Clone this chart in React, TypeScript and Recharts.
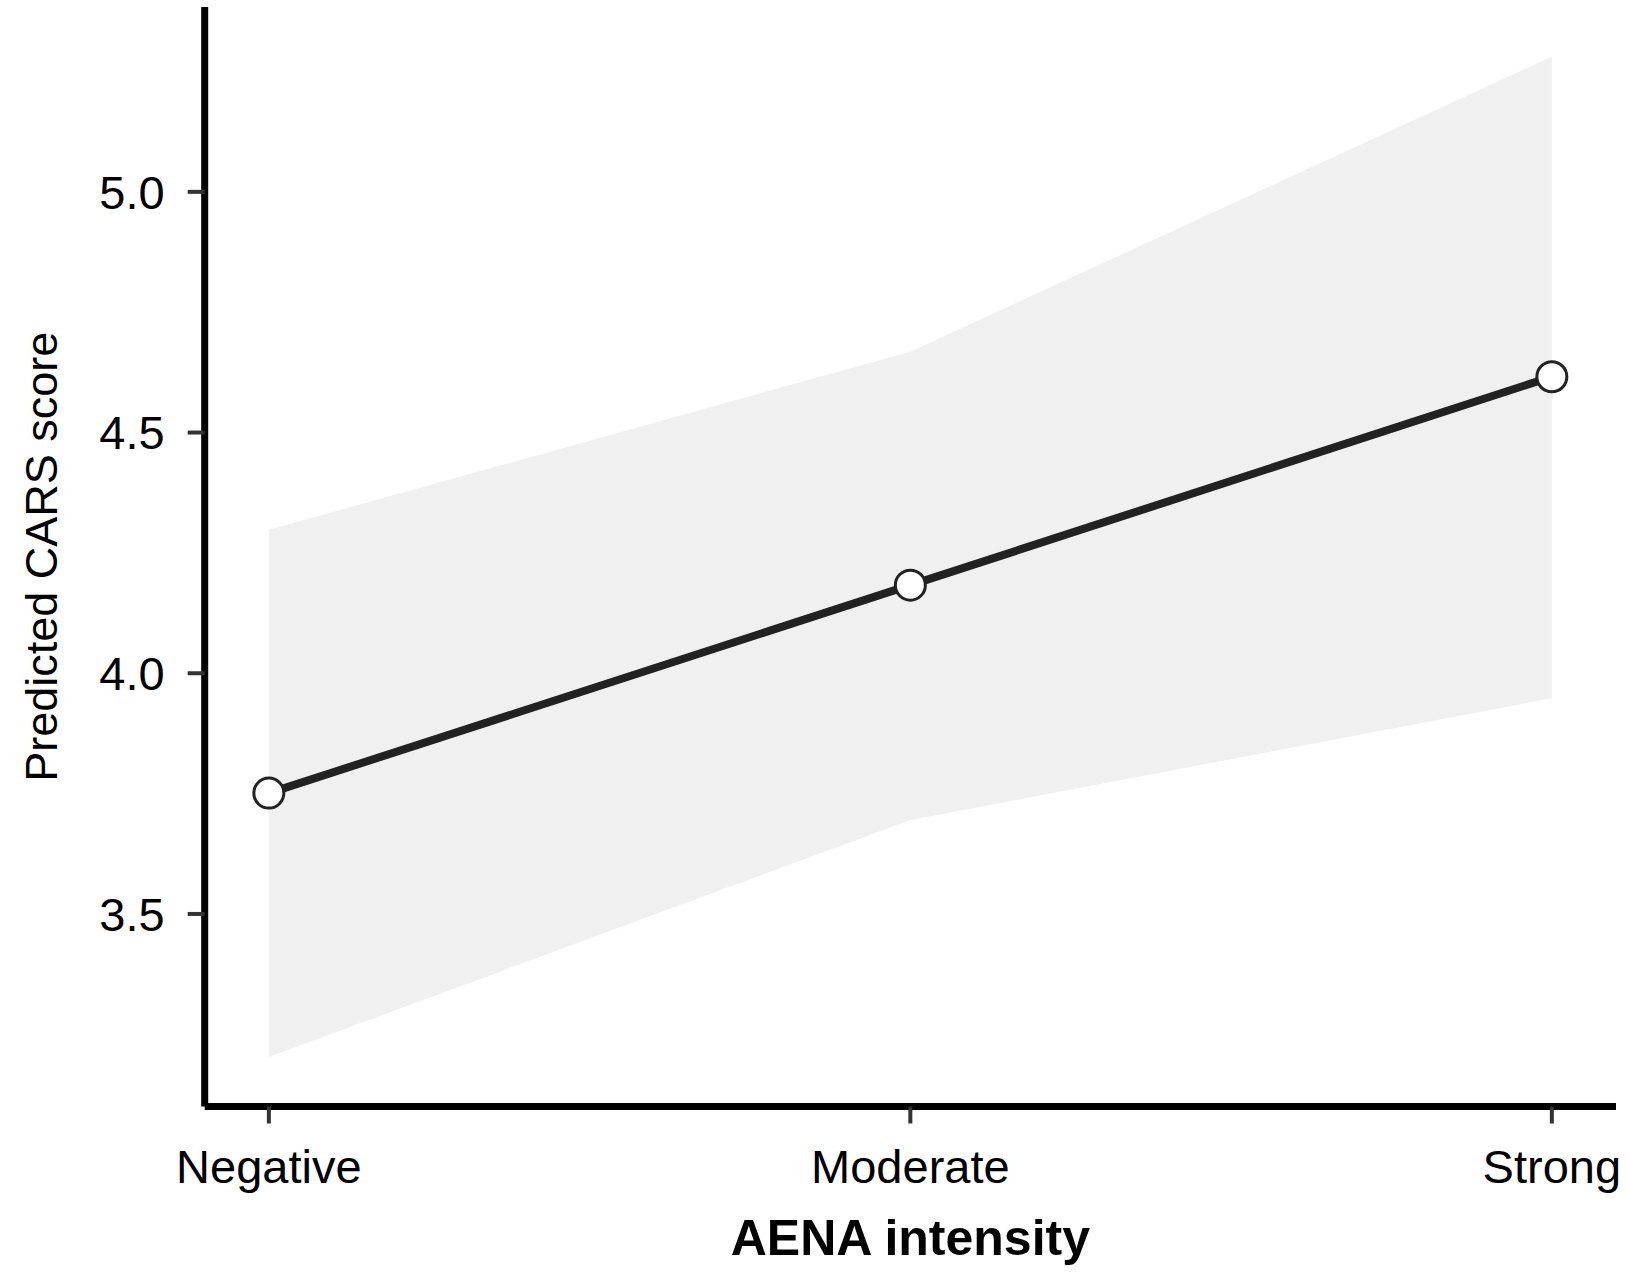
import { ComposedChart, Area, Line, XAxis, YAxis } from 'recharts';

// AENA intensity levels on the x axis
const categories = ['Negative', 'Moderate', 'Strong'];
// Predicted CARS score and its confidence band
const predicted = [3.751, 4.183, 4.616];
const lower = [3.203, 3.695, 3.948];
const upper = [4.298, 4.668, 5.281];
const yTicks = [3.5, 4.0, 4.5, 5.0];

const data = categories.map((name, i) => ({
  x: i,
  name,
  y: predicted[i],
  band: [lower[i], upper[i]],
}));

const FONT = "'Liberation Sans', Arial, sans-serif";

export default function App() {
  return (
    <div style={{ position: 'absolute', left: 0, top: 0, background: '#fff' }}>
      <ComposedChart
        width={1630}
        height={1283}
        data={data}
        margin={{ top: 7, right: 14, bottom: 0, left: 0 }}
      >
        <XAxis
          dataKey="x"
          type="number"
          domain={[-0.1, 2.1]}
          ticks={[0, 1, 2]}
          allowDataOverflow
          tickFormatter={(v: number) => categories[v]}
          height={176.5}
          axisLine={{ stroke: '#000', strokeWidth: 7 }}
          tickLine={{ stroke: '#333', strokeWidth: 4 }}
          tickSize={17}
          tickMargin={26}
          tick={{ fill: '#000', fontSize: 47, fontFamily: FONT }}
          label={{
            content: ({ viewBox }: any) => (
              <text
                x={viewBox.x + viewBox.width / 2}
                y={viewBox.y + 148.5}
                textAnchor="middle"
                fontFamily={FONT}
                fontWeight="bold"
                fontSize={50}
                fill="#000"
              >
                AENA intensity
              </text>
            ),
          }}
        />
        <YAxis
          type="number"
          domain={[3.1, 5.384]}
          ticks={yTicks}
          allowDataOverflow
          width={204.7}
          tickFormatter={(v: number) => v.toFixed(1)}
          axisLine={{ stroke: '#000', strokeWidth: 7 }}
          tickLine={{ stroke: '#333', strokeWidth: 4 }}
          tickSize={17}
          tickMargin={23}
          tick={{ fill: '#000', fontSize: 47, fontFamily: FONT }}
          label={{
            content: ({ viewBox }: any) => {
              const cy = viewBox.y + viewBox.height / 2;
              return (
                <text
                  x={57}
                  y={cy}
                  transform={`rotate(-90, 57, ${cy})`}
                  textAnchor="middle"
                  fontFamily={FONT}
                  fontSize={45}
                  fill="#000"
                >
                  Predicted CARS score
                </text>
              );
            },
          }}
        />
        <Area
          dataKey="band"
          type="linear"
          stroke="none"
          fill="#f0f0f0"
          fillOpacity={1}
          isAnimationActive={false}
        />
        <Line
          dataKey="y"
          type="linear"
          stroke="#222"
          strokeWidth={8}
          dot={{ r: 15, fill: '#fff', stroke: '#222', strokeWidth: 3 }}
          activeDot={false}
          isAnimationActive={false}
        />
      </ComposedChart>
    </div>
  );
}
